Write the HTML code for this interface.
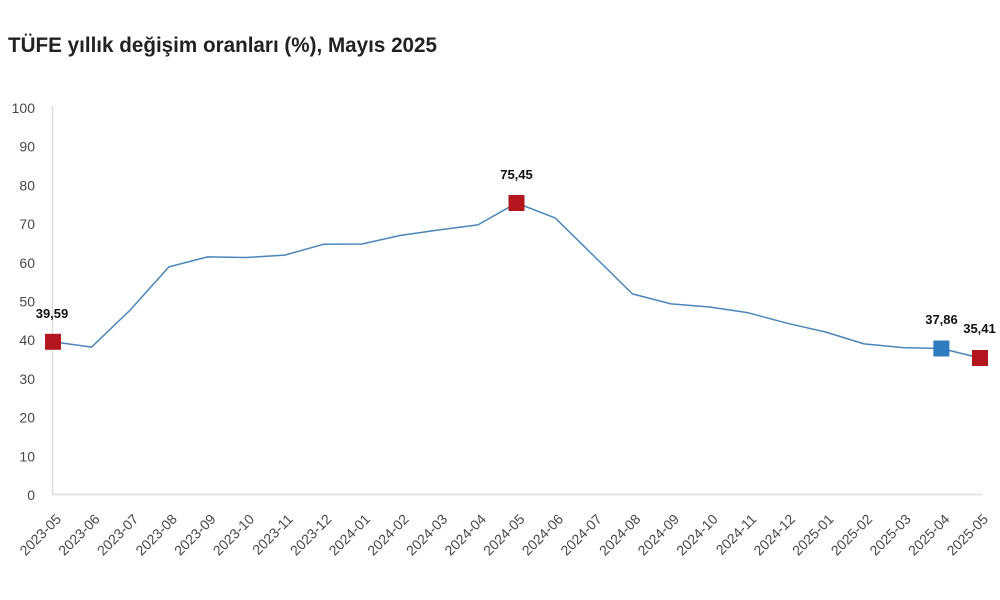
<!DOCTYPE html>
<html>
<head>
<meta charset="utf-8">
<style>
html,body{margin:0;padding:0;background:#fff;}
body{width:1000px;height:600px;overflow:hidden;}
svg{display:block;}
text{font-family:"Liberation Sans","DejaVu Sans",sans-serif;}
</style>
</head>
<body>
<svg width="1000" height="600" viewBox="0 0 1000 600" xmlns="http://www.w3.org/2000/svg">
<rect width="1000" height="600" fill="#fff"/>
<text x="8" y="52" font-size="21.5" font-weight="bold" fill="#222" textLength="429" lengthAdjust="spacingAndGlyphs">TÜFE yıllık değişim oranları (%), Mayıs 2025</text>

<!-- axes -->
<line x1="52.5" y1="106" x2="52.5" y2="495" stroke="#dedede" stroke-width="1.5"/>
<line x1="52" y1="494.5" x2="982" y2="494.5" stroke="#dedede" stroke-width="1.5"/>

<!-- y labels -->
<g font-size="14" fill="#484848" text-anchor="end">
<text x="35" y="500">0</text>
<text x="35" y="461.3">10</text>
<text x="35" y="422.6">20</text>
<text x="35" y="383.9">30</text>
<text x="35" y="345.2">40</text>
<text x="35" y="306.5">50</text>
<text x="35" y="267.8">60</text>
<text x="35" y="229.1">70</text>
<text x="35" y="190.4">80</text>
<text x="35" y="151.7">90</text>
<text x="35" y="113">100</text>
</g>

<!-- x labels -->
<g font-size="14" fill="#484848" text-anchor="end">
<text transform="translate(62,520) rotate(-45)">2023-05</text>
<text transform="translate(100.6,520) rotate(-45)">2023-06</text>
<text transform="translate(139.3,520) rotate(-45)">2023-07</text>
<text transform="translate(177.9,520) rotate(-45)">2023-08</text>
<text transform="translate(216.5,520) rotate(-45)">2023-09</text>
<text transform="translate(255.1,520) rotate(-45)">2023-10</text>
<text transform="translate(293.8,520) rotate(-45)">2023-11</text>
<text transform="translate(332.4,520) rotate(-45)">2023-12</text>
<text transform="translate(371,520) rotate(-45)">2024-01</text>
<text transform="translate(409.6,520) rotate(-45)">2024-02</text>
<text transform="translate(448.3,520) rotate(-45)">2024-03</text>
<text transform="translate(486.9,520) rotate(-45)">2024-04</text>
<text transform="translate(525.5,520) rotate(-45)">2024-05</text>
<text transform="translate(564.1,520) rotate(-45)">2024-06</text>
<text transform="translate(602.8,520) rotate(-45)">2024-07</text>
<text transform="translate(641.4,520) rotate(-45)">2024-08</text>
<text transform="translate(680,520) rotate(-45)">2024-09</text>
<text transform="translate(718.6,520) rotate(-45)">2024-10</text>
<text transform="translate(757.3,520) rotate(-45)">2024-11</text>
<text transform="translate(795.9,520) rotate(-45)">2024-12</text>
<text transform="translate(834.5,520) rotate(-45)">2025-01</text>
<text transform="translate(873.1,520) rotate(-45)">2025-02</text>
<text transform="translate(911.8,520) rotate(-45)">2025-03</text>
<text transform="translate(950.4,520) rotate(-45)">2025-04</text>
<text transform="translate(989,520) rotate(-45)">2025-05</text>
</g>

<!-- series -->
<polyline fill="none" stroke="#4a86b8" stroke-width="1.5" stroke-linejoin="round"
points="53,341.8 91.6,347.1 130.3,309.9 168.9,266.9 207.5,256.9 246.1,257.5 284.8,255.1 323.4,244.3 362,244 400.6,235.4 439.3,229.9 477.9,224.9 516.5,203 555.1,217.9 593.8,255.9 632.4,293.9 671,303.9 709.6,307 748.3,312.8 786.9,323.2 825.5,332 864.1,343.9 902.8,347.6 941.4,348.5 980,358"/>

<!-- markers -->
<rect x="45" y="333.8" width="16" height="16" fill="#b3161c"/>
<rect x="508.5" y="195" width="16" height="16" fill="#b3161c"/>
<rect x="933.4" y="340.5" width="16" height="16" fill="#2e7bbd"/>
<rect x="972" y="350" width="16" height="16" fill="#b3161c"/>

<!-- data labels -->
<g font-size="13" font-weight="bold" fill="#111" text-anchor="middle">
<text x="52" y="318">39,59</text>
<text x="516.5" y="179">75,45</text>
<text x="941.5" y="324">37,86</text>
<text x="979.5" y="333">35,41</text>
</g>
</svg>
</body>
</html>
